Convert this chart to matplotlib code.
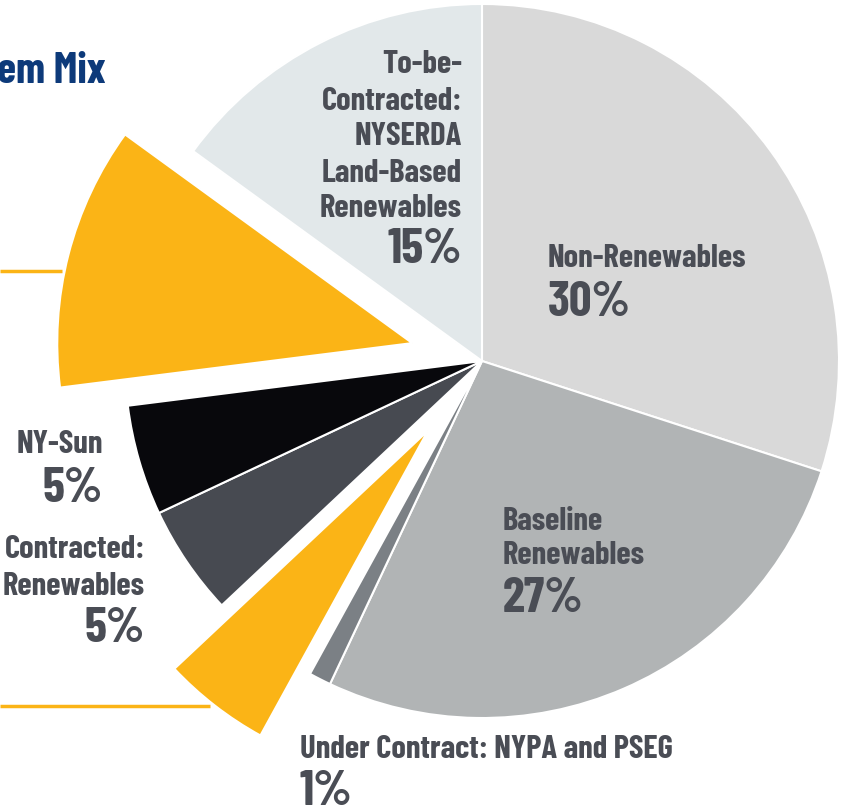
import matplotlib
matplotlib.use('Agg')
from matplotlib import pyplot as plt
from matplotlib import font_manager

# slices, clockwise from 12 o'clock
slice_names = ['Non-Renewables', 'Baseline Renewables', 'Under Contract: NYPA and PSEG',
               'Offshore (lower)', 'Contracted: Renewables', 'NY-Sun',
               'Offshore (upper)', 'To-be-Contracted: NYSERDA Land-Based Renewables']
slice_values = [30, 27, 1, 5, 5, 5, 12, 15]
slice_colors = ['#d9d9d9', '#b1b4b5', '#7b8085', '#fbb416',
                '#474a51', '#08080c', '#fbb416', '#e2e8ea']

W, H = 846, 812
R = 357
TXT = '#4a4d55'
YEL = '#fbb416'

installed = set(f.name for f in font_manager.fontManager.ttflist)
fam = [f for f in ['Barlow Condensed', 'Roboto Condensed', 'Liberation Sans Narrow', 'DejaVu Sans']
       if f in installed]
plt.rcParams['font.family'] = fam


def Y(y):
    # picture rows run downward, axes run upward
    return H - y


fig = plt.figure(figsize=(W / 100, H / 100), dpi=100)
ax = fig.add_axes([0, 0, 1, 1])

# pulled-out slices: offset in pixels, own radius
pull = {'Offshore (lower)': (88, 348), 'Offshore (upper)': (72, 355)}
explode = [pull[n][0] if n in pull else 0 for n in slice_names]
wedges, _ = ax.pie(slice_values, colors=slice_colors, explode=explode,
                   startangle=90, counterclock=False, center=(482, Y(362)), radius=R,
                   wedgeprops=dict(edgecolor='white', linewidth=1.5))
for w, n in zip(wedges, slice_names):
    if n in pull:
        w.set_radius(pull[n][1])
ax.set_xlim(0, W)
ax.set_ylim(0, H)
ax.set_aspect('equal')
ax.axis('off')

# leader lines of the two yellow slices (labels are outside the crop)
ax.plot([0, 62], [Y(272), Y(272)], color=YEL, lw=2.5, solid_capstyle='butt')
ax.plot([0, 210], [Y(707), Y(707)], color=YEL, lw=2.5, solid_capstyle='butt')

small = 23.5
big = 36
kw = dict(color=TXT, fontweight='bold', va='baseline')


def label(x, ha, lines, baselines, pct, pct_base):
    for t, b in zip(lines, baselines):
        ax.text(x, Y(b), t, ha=ha, fontsize=small, **kw)
    ax.text(x, Y(pct_base), pct, ha=ha, fontsize=big, **kw)


label(462, 'right', ['To-be-', 'Contracted:', 'NYSERDA', 'Land-Based', 'Renewables'],
      [73, 110, 145, 182, 217], '15%', 263)
label(548, 'left', ['Non-Renewables'], [267], '30%', 316)
label(503, 'left', ['Baseline', 'Renewables'], [530, 564], '27%', 612)
label(103, 'right', ['NY-Sun'], [453], '5%', 502)
label(145, 'right', ['Contracted:', 'Renewables'], [558, 595], '5%', 642)
label(300, 'left', ['Under Contract: NYPA and PSEG'], [758], '1%', 805)

ax.text(106, Y(83), 'System Mix', ha='right', va='baseline', fontsize=31,
        color='#0d3a7a', fontweight='bold')

fig.savefig('out.png', dpi=100)
